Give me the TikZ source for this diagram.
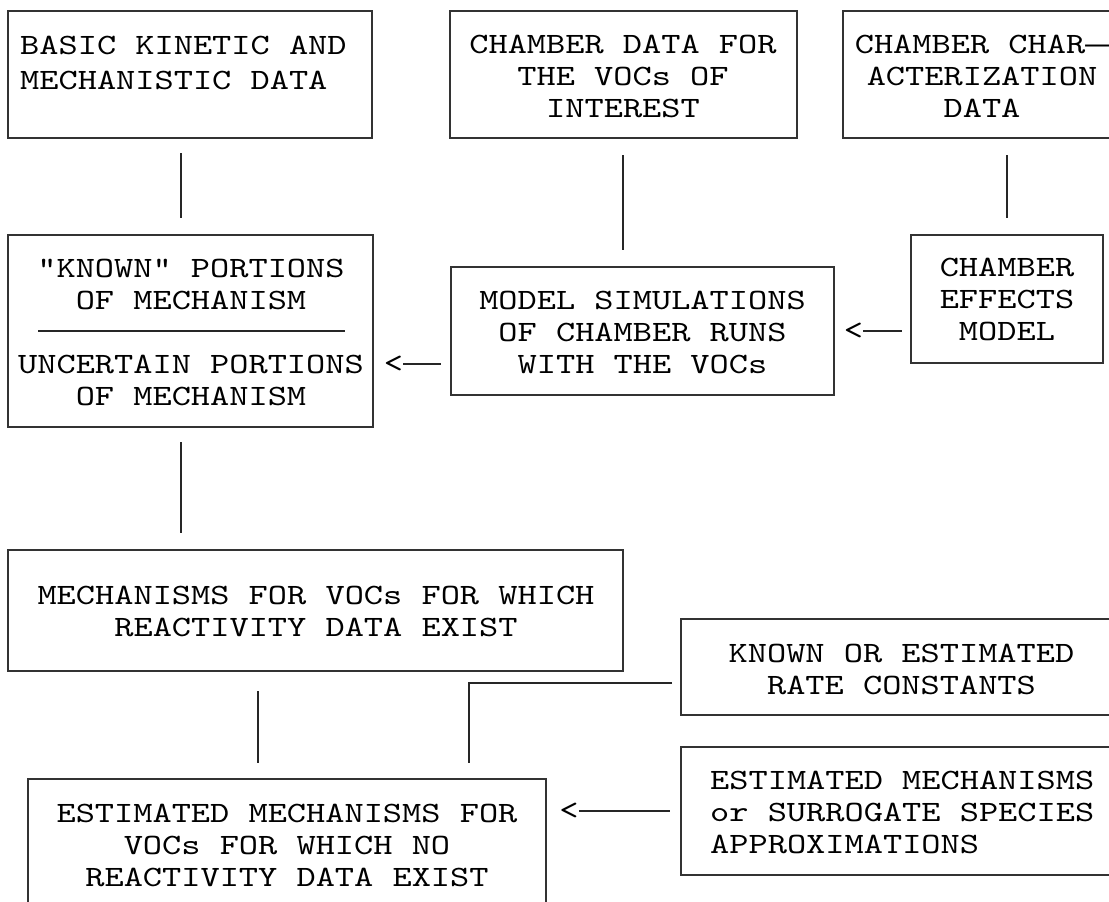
\documentclass[tikz,border=0pt]{standalone}
\usepackage{fontspec}
% widened typewriter face, close to a Courier look
\newfontfamily\cour[Extension=.otf, FakeStretch=1.24]{lmmono10-regular}
% full-cell dash for the word break in the top right box
\newfontfamily\dashface[FakeStretch=1.35]{Liberation Mono}
\usetikzlibrary{fit}
\begin{document}
\begin{tikzpicture}[x=1pt,y=-1pt,
  box/.style={draw=black!80, line width=1.1pt, inner sep=0pt, outer sep=0pt},
  txt/.style={font=\cour\fontsize{29.5}{32}\selectfont, inner sep=0pt, align=center},
  link/.style={draw=black!85, line width=1.1pt},
  tip/.style={font=\cour\fontsize{29.5}{32}\selectfont, inner sep=0pt}]
\useasboundingbox (0,0) rectangle (1109,902);
\clip (0,0) rectangle (1109,902);
\fill[white] (0,0) rectangle (1109,902);

% boxes
\node[box, fit={(8,11) (372,138)}] (b1) {};
\node[box, fit={(450,11) (797,138)}] (b2) {};
\node[box, fit={(843,11) (1130,138)}] (b3) {};
\node[box, fit={(8,235) (373,427)}] (b4) {};
\node[box, fit={(451,267) (834,395)}] (b5) {};
\node[box, fit={(911,235) (1103,363)}] (b6) {};
\node[box, fit={(8,550) (623,671)}] (b7) {};
\node[box, fit={(681,619) (1130,715)}] (b8) {};
\node[box, fit={(681,747) (1130,875)}] (b9) {};
\node[box, fit={(28,779) (546,920)}] (b10) {};

% texts
\node[txt, anchor=north west, align=left] (t1) at (20,36) {BASIC KINETIC AND\\[3pt]MECHANISTIC DATA};
\node[txt, anchor=north] (t2) at (623,35) {CHAMBER DATA FOR\\THE VOCs OF\\INTEREST};
\node[txt, anchor=north] (t3) at (982,35) {CHAMBER CHAR{\dashface —}\\ACTERIZATION\\DATA};
\node[txt, anchor=north] (t4a) at (191,259) {"KNOWN" PORTIONS\\OF MECHANISM};
\node[txt, anchor=north] (t4b) at (191,355) {UNCERTAIN PORTIONS\\OF MECHANISM};
\draw[link] (38,331) -- (345,331);
\node[txt, anchor=north] (t5) at (642.5,291) {MODEL SIMULATIONS\\OF CHAMBER RUNS\\WITH THE VOCs};
\node[txt, anchor=north] (t6) at (1007,258) {CHAMBER\\EFFECTS\\MODEL};
\node[txt, anchor=north] (t7) at (316,586) {MECHANISMS FOR VOCs FOR WHICH\\REACTIVITY DATA EXIST};
\node[txt, anchor=north] (t8) at (901.5,644) {KNOWN OR ESTIMATED\\RATE CONSTANTS};
\node[txt, anchor=north west, align=left] (t9) at (710,771) {ESTIMATED MECHANISMS\\or SURROGATE SPECIES\\APPROXIMATIONS};
\node[txt, anchor=north] (t10) at (287,804) {ESTIMATED MECHANISMS FOR\\VOCs FOR WHICH NO\\REACTIVITY DATA EXIST};

% plain vertical links
\coordinate (x1) at (181,0);
\coordinate (x2) at (623,0);
\coordinate (x3) at (1007,0);
\coordinate (x4) at (258,0);
\coordinate (k) at (469,683);
\draw[link, shorten <=15pt, shorten >=17pt] (b1.south -| x1) -- (b4.north -| x1);
\draw[link, shorten <=17pt, shorten >=17pt] (b2.south -| x2) -- (b5.north -| x2);
\draw[link, shorten <=17pt, shorten >=17pt] (b3.south -| x3) -- (b6.north -| x3);
\draw[link, shorten <=15pt, shorten >=17pt] (b4.south -| x1) -- (b7.north -| x1);
\draw[link, shorten <=20pt, shorten >=16pt] (b7.south -| x4) -- (b10.north -| x4);
\draw[link, shorten <=9pt, shorten >=16pt] (b8.west |- k) -- (k) -- (b10.north -| k);

% "<" pointers
\node[tip] (p1) at (853.5,331) {<};
\node[tip] (p2) at (393.5,364) {<};
\node[tip] (p3) at (569,811) {<};
\draw[link, shorten >=9pt] (p1.east) -- (p1.east -| b6.west);
\draw[link, shorten >=10pt] (p2.east) -- (p2.east -| b5.west);
\draw[link, shorten >=11pt] (p3.east) -- (p3.east -| b9.west);
\end{tikzpicture}
\end{document}
